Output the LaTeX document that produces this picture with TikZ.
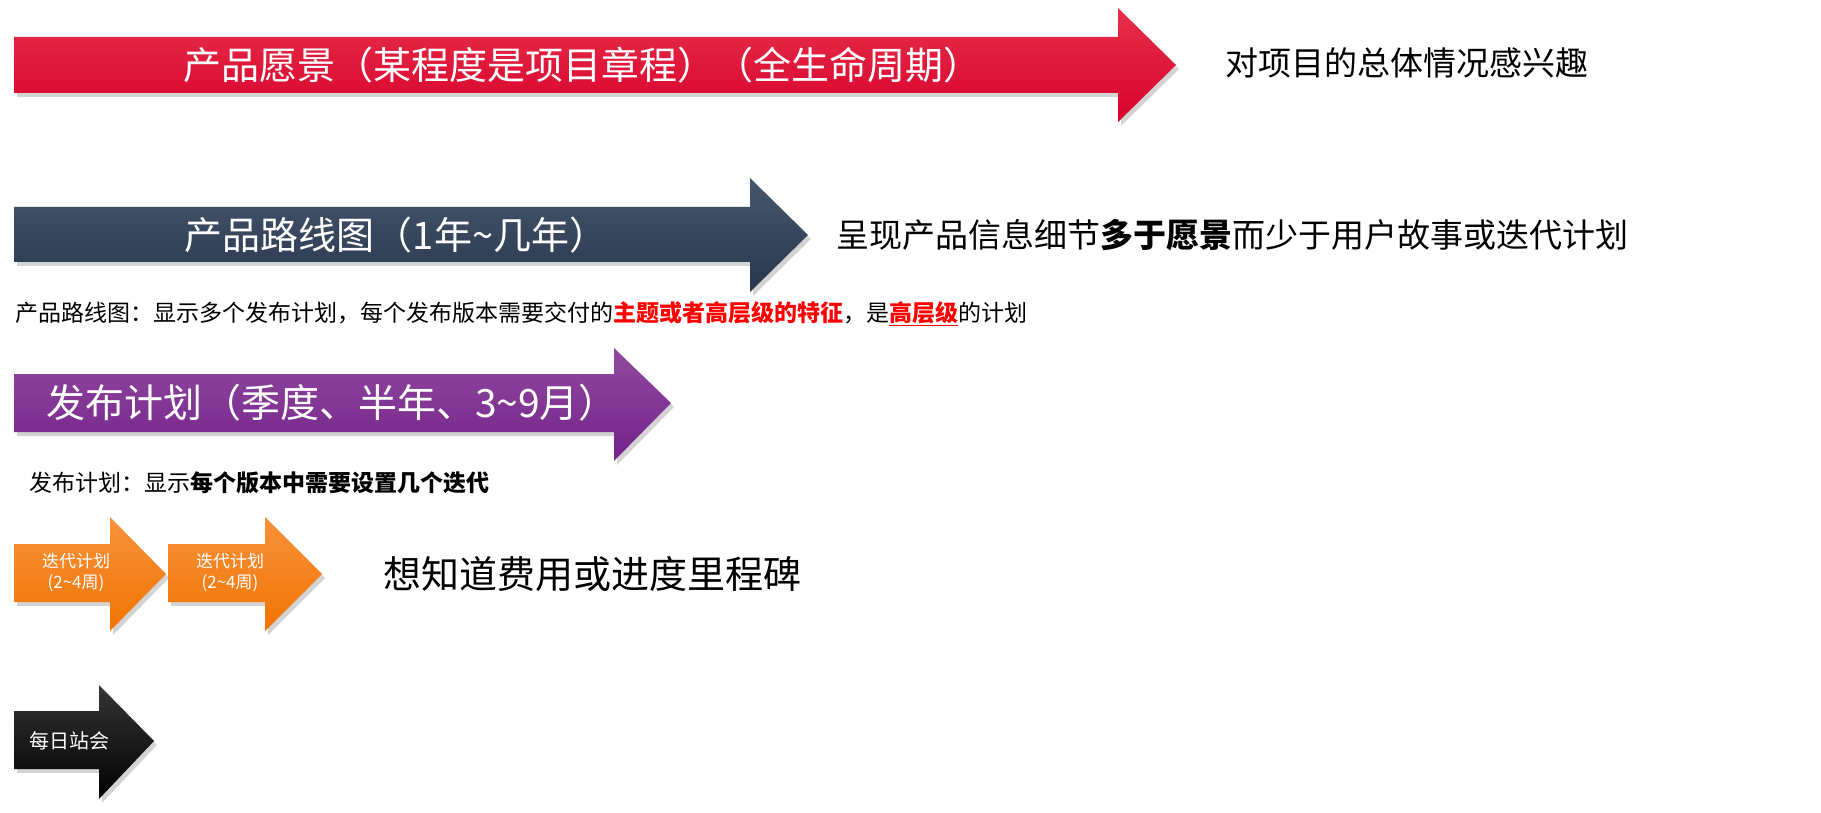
\documentclass[tikz,border=0pt]{standalone}
\usepackage{fontspec}
\setmainfont{Noto Sans CJK SC}
\usetikzlibrary{shadows}
\definecolor{redT}{HTML}{E6314B}
\definecolor{redB}{HTML}{D8002A}
\definecolor{navyT}{HTML}{46566C}
\definecolor{navyB}{HTML}{28374D}
\definecolor{purT}{HTML}{904A9F}
\definecolor{purB}{HTML}{74228A}
\definecolor{orT}{HTML}{F8923E}
\definecolor{orB}{HTML}{F07400}
\definecolor{blkT}{HTML}{353535}
\definecolor{blkB}{HTML}{000000}
\definecolor{capred}{HTML}{FF0000}
\tikzset{
  arrowshape/.style={drop shadow={shadow xshift=3pt,shadow yshift=-4pt,opacity=0.35}},
  bigtxt/.style={text=white,inner sep=0pt,font=\fontsize{37}{40}\selectfont},
  sidetxt/.style={text=black,inner sep=0pt,anchor=west,font=\fontsize{33}{38}\selectfont},
  captxt/.style={text=black,inner sep=0pt,anchor=west,font=\fontsize{23}{26}\selectfont},
  smalltxt/.style={text=white,inner sep=0pt,align=center,font=\fontsize{17}{21}\selectfont}
}
\begin{document}
\begin{tikzpicture}[x=1pt,y=-1pt]
\useasboundingbox (0,0) rectangle (1821,813);
% red arrow
\path[arrowshape,top color=redT,bottom color=redB]
  (14,37) -- (1118,37) -- (1118,8) -- (1176,65) -- (1118,122) -- (1118,93) -- (14,93) -- cycle;
\node[bigtxt,font=\fontsize{38}{40}\selectfont] (vision) at (582,65) {产品愿景（某程度是项目章程）（全生命周期）};
\node[sidetxt] (visionnote) at (1225,63) {对项目的总体情况感兴趣};
% navy arrow
\path[arrowshape,top color=navyT,bottom color=navyB]
  (14,207) -- (750,207) -- (750,178) -- (808,235) -- (750,292) -- (750,262) -- (14,262) -- cycle;
\node[bigtxt,font=\fontsize{38}{40}\selectfont] (roadmap) at (396,235) {产品路线图（1年\textasciitilde 几年）};
\node[sidetxt] (roadmapnote) at (836,235) {呈现产品信息细节\textbf{多于愿景}而少于用户故事或迭代计划};
\node[captxt] (roadmapcap) at (15,314) {产品路线图：显示多个发布计划，每个发布版本需要交付的\textcolor{capred}{\textbf{主题或者高层级的特征}}，是\textcolor{capred}{\textbf{\underline{高层级}}}的计划};
% purple arrow
\path[arrowshape,top color=purT,bottom color=purB]
  (14,374) -- (614,374) -- (614,348) -- (671,403) -- (614,461) -- (614,432) -- (14,432) -- cycle;
\node[bigtxt,font=\fontsize{39}{42}\selectfont] (release) at (332,403) {发布计划（季度、半年、3\textasciitilde 9月）};
\node[captxt] (releasecap) at (29,483) {发布计划：显示\textbf{每个版本中需要设置几个迭代}};
% orange arrows
\path[arrowshape,top color=orT,bottom color=orB]
  (14,544) -- (110,544) -- (110,517) -- (166,574) -- (110,631) -- (110,602) -- (14,602) -- cycle;
\path[arrowshape,top color=orT,bottom color=orB]
  (168,544) -- (265,544) -- (265,517) -- (322,574) -- (265,631) -- (265,602) -- (168,602) -- cycle;
\node[smalltxt] (iter1) at (76,573) {迭代计划\\(2\textasciitilde 4周)};
\node[smalltxt] (iter2) at (230,573) {迭代计划\\(2\textasciitilde 4周)};
\node[sidetxt,font=\fontsize{38}{40}\selectfont] (iternote) at (383,574) {想知道费用或进度里程碑};
% black arrow
\path[arrowshape,top color=blkT,bottom color=blkB]
  (14,711) -- (99,711) -- (99,685) -- (154,741) -- (99,799) -- (99,769) -- (14,769) -- cycle;
\node[text=white,inner sep=0pt,anchor=west,font=\fontsize{20}{24}\selectfont] (daily) at (29,741) {每日站会};
\end{tikzpicture}
\end{document}
